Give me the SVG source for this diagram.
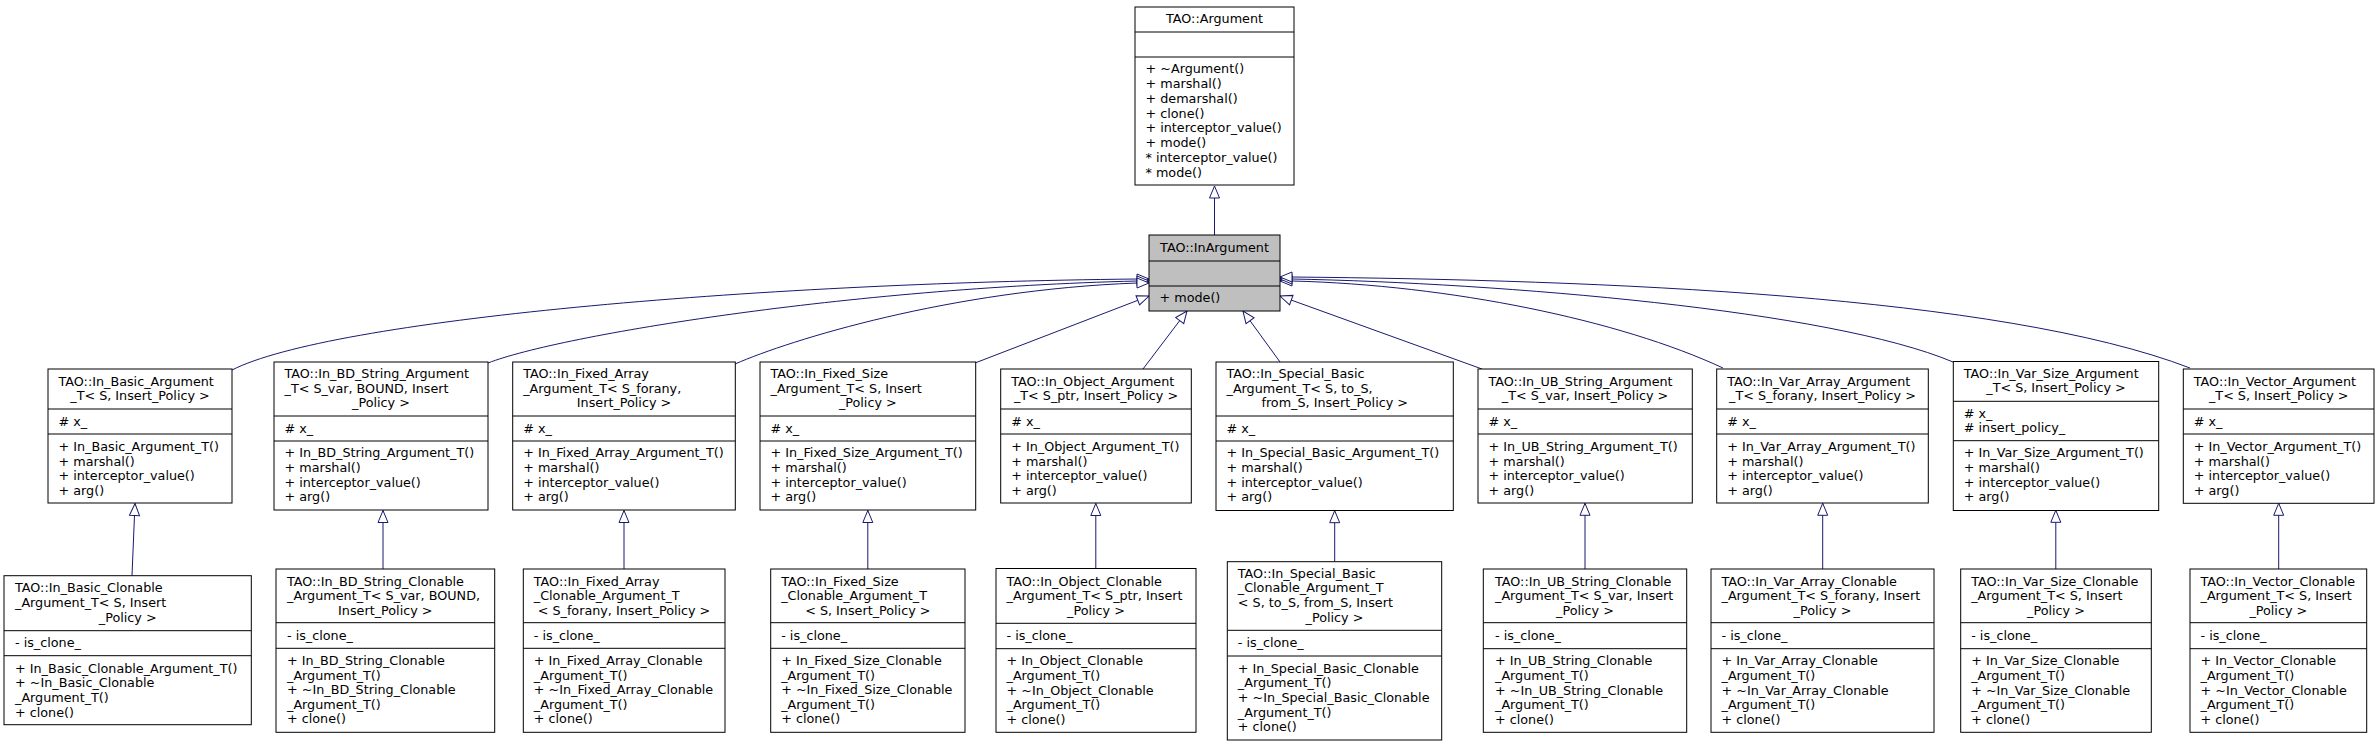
<svg xmlns="http://www.w3.org/2000/svg" width="2380" height="747" viewBox="0 0 2380 747">
<style>
.box{fill:#fff;stroke:#000;stroke-width:1}
.hl{fill:#bfbfbf}
.div{stroke:#000;stroke-width:1}
text{font-family:"DejaVu Sans","Liberation Sans",sans-serif;font-size:12.75px;fill:#000}
.c{text-anchor:middle}
.edge{fill:none;stroke:#191970;stroke-width:1;marker-end:url(#tri)}
</style>
<defs>
<marker id="tri" markerUnits="userSpaceOnUse" markerWidth="14" markerHeight="12" viewBox="-1 -1 14 12" refX="12" refY="5" orient="auto" overflow="visible"><path d="M0,0 L12,5 L0,10 Z" fill="#fff" stroke="#191970" stroke-width="1"/></marker>
</defs>
<rect width="2380" height="747" fill="#fff"/>
<g id="edges">
<path class="edge" d="M1214.5,235 L1214.5,186"/>
<path class="edge" d="M232,370 C330,320 750,283 1137,279 L1149,279"/>
<path class="edge" d="M488,363 C560,335 850,288 1137,281 L1149,281"/>
<path class="edge" d="M735,364 C790,340 950,290 1137,283 L1149,283"/>
<path class="edge" d="M975,363 L1149,296"/>
<path class="edge" d="M1143,369 L1187,311"/>
<path class="edge" d="M1280,362 L1243,311"/>
<path class="edge" d="M1482,369 L1280,296"/>
<path class="edge" d="M1723,368 C1620,320 1450,285 1292,281 L1280,281"/>
<path class="edge" d="M1953,362 C1830,310 1500,283 1292,279 L1280,279"/>
<path class="edge" d="M2190,368 C2000,295 1600,280 1292,277 L1280,277"/>
<path class="edge" d="M132,575.7 L135,503.5"/>
<path class="edge" d="M383,569 L383,510.5"/>
<path class="edge" d="M624,569 L624,510.5"/>
<path class="edge" d="M867.8,569 L867.8,510.5"/>
<path class="edge" d="M1095.8,568.5 L1095.8,503.5"/>
<path class="edge" d="M1334.7,561.7 L1334.7,510.7"/>
<path class="edge" d="M1585,569 L1585,503.3"/>
<path class="edge" d="M1822.7,569 L1822.7,503.3"/>
<path class="edge" d="M2055.8,569 L2055.8,510.3"/>
<path class="edge" d="M2278.7,569 L2278.7,503.3"/>
</g>

<g id="Argument">
<rect class="box" x="1135" y="7" width="159" height="178"/>
<line class="div" x1="1135" y1="32" x2="1294" y2="32"/>
<line class="div" x1="1135" y1="57" x2="1294" y2="57"/>
<text class="c" x="1214.5" y="23.3">TAO::Argument</text>
<text x="1145.5" y="73.3">+ ~Argument()</text>
<text x="1145.5" y="88.1">+ marshal()</text>
<text x="1145.5" y="102.8">+ demarshal()</text>
<text x="1145.5" y="117.6">+ clone()</text>
<text x="1145.5" y="132.3">+ interceptor_value()</text>
<text x="1145.5" y="147.1">+ mode()</text>
<text x="1145.5" y="161.9">* interceptor_value()</text>
<text x="1145.5" y="176.6">* mode()</text>
</g>

<g id="InArgument">
<rect class="box hl" x="1149" y="235" width="131" height="76"/>
<line class="div" x1="1149" y1="261" x2="1280" y2="261"/>
<line class="div" x1="1149" y1="286" x2="1280" y2="286"/>
<text class="c" x="1214.5" y="252">TAO::InArgument</text>
<text x="1159.5" y="301.5">+ mode()</text>
</g>

<g id="In_Basic_Argument_T">
<rect class="box" x="48" y="369" width="184" height="134"/>
<line class="div" x1="48" y1="409" x2="232" y2="409"/>
<line class="div" x1="48" y1="434" x2="232" y2="434"/>
<text x="58.5" y="385.5">TAO::In_Basic_Argument</text>
<text class="c" x="140" y="400.1">_T&lt; S, Insert_Policy &gt;</text>
<text x="58.5" y="425.7"># x_</text>
<text x="58.5" y="451">+ In_Basic_Argument_T()</text>
<text x="58.5" y="465.6">+ marshal()</text>
<text x="58.5" y="480.2">+ interceptor_value()</text>
<text x="58.5" y="494.8">+ arg()</text>
</g>

<g id="In_BD_String_Argument_T">
<rect class="box" x="274" y="362" width="214" height="148"/>
<line class="div" x1="274" y1="416" x2="488" y2="416"/>
<line class="div" x1="274" y1="441" x2="488" y2="441"/>
<text x="284.5" y="378">TAO::In_BD_String_Argument</text>
<text x="284.5" y="392.6">_T&lt; S_var, BOUND, Insert</text>
<text class="c" x="381" y="407.2">_Policy &gt;</text>
<text x="284.5" y="432.7"># x_</text>
<text x="284.5" y="457.3">+ In_BD_String_Argument_T()</text>
<text x="284.5" y="471.9">+ marshal()</text>
<text x="284.5" y="486.5">+ interceptor_value()</text>
<text x="284.5" y="501.1">+ arg()</text>
</g>

<g id="In_Fixed_Array_Argument_T">
<rect class="box" x="512.7" y="362" width="222.6" height="148"/>
<line class="div" x1="512.7" y1="416" x2="735.3" y2="416"/>
<line class="div" x1="512.7" y1="441" x2="735.3" y2="441"/>
<text x="523.2" y="378">TAO::In_Fixed_Array</text>
<text x="523.2" y="392.6">_Argument_T&lt; S_forany,</text>
<text class="c" x="624" y="407.2">Insert_Policy &gt;</text>
<text x="523.2" y="432.7"># x_</text>
<text x="523.2" y="457.3">+ In_Fixed_Array_Argument_T()</text>
<text x="523.2" y="471.9">+ marshal()</text>
<text x="523.2" y="486.5">+ interceptor_value()</text>
<text x="523.2" y="501.1">+ arg()</text>
</g>

<g id="In_Fixed_Size_Argument_T">
<rect class="box" x="760" y="362" width="215.7" height="148"/>
<line class="div" x1="760" y1="416" x2="975.7" y2="416"/>
<line class="div" x1="760" y1="441" x2="975.7" y2="441"/>
<text x="770.5" y="378">TAO::In_Fixed_Size</text>
<text x="770.5" y="392.6">_Argument_T&lt; S, Insert</text>
<text class="c" x="867.8" y="407.2">_Policy &gt;</text>
<text x="770.5" y="432.7"># x_</text>
<text x="770.5" y="457.3">+ In_Fixed_Size_Argument_T()</text>
<text x="770.5" y="471.9">+ marshal()</text>
<text x="770.5" y="486.5">+ interceptor_value()</text>
<text x="770.5" y="501.1">+ arg()</text>
</g>

<g id="In_Object_Argument_T">
<rect class="box" x="1000.7" y="369" width="190.6" height="134"/>
<line class="div" x1="1000.7" y1="409" x2="1191.3" y2="409"/>
<line class="div" x1="1000.7" y1="434" x2="1191.3" y2="434"/>
<text x="1011.2" y="385.5">TAO::In_Object_Argument</text>
<text class="c" x="1096" y="400.1">_T&lt; S_ptr, Insert_Policy &gt;</text>
<text x="1011.2" y="425.7"># x_</text>
<text x="1011.2" y="451">+ In_Object_Argument_T()</text>
<text x="1011.2" y="465.6">+ marshal()</text>
<text x="1011.2" y="480.2">+ interceptor_value()</text>
<text x="1011.2" y="494.8">+ arg()</text>
</g>

<g id="In_Special_Basic_Argument_T">
<rect class="box" x="1216" y="362" width="237.3" height="148.5"/>
<line class="div" x1="1216" y1="416" x2="1453.3" y2="416"/>
<line class="div" x1="1216" y1="441" x2="1453.3" y2="441"/>
<text x="1226.5" y="378">TAO::In_Special_Basic</text>
<text x="1226.5" y="392.6">_Argument_T&lt; S, to_S,</text>
<text class="c" x="1334.7" y="407.2">from_S, Insert_Policy &gt;</text>
<text x="1226.5" y="432.7"># x_</text>
<text x="1226.5" y="457.3">+ In_Special_Basic_Argument_T()</text>
<text x="1226.5" y="471.9">+ marshal()</text>
<text x="1226.5" y="486.5">+ interceptor_value()</text>
<text x="1226.5" y="501.1">+ arg()</text>
</g>

<g id="In_UB_String_Argument_T">
<rect class="box" x="1478" y="369" width="214.3" height="134"/>
<line class="div" x1="1478" y1="409" x2="1692.3" y2="409"/>
<line class="div" x1="1478" y1="434" x2="1692.3" y2="434"/>
<text x="1488.5" y="385.5">TAO::In_UB_String_Argument</text>
<text class="c" x="1585" y="400.1">_T&lt; S_var, Insert_Policy &gt;</text>
<text x="1488.5" y="425.7"># x_</text>
<text x="1488.5" y="451">+ In_UB_String_Argument_T()</text>
<text x="1488.5" y="465.6">+ marshal()</text>
<text x="1488.5" y="480.2">+ interceptor_value()</text>
<text x="1488.5" y="494.8">+ arg()</text>
</g>

<g id="In_Var_Array_Argument_T">
<rect class="box" x="1716.7" y="369" width="211.6" height="134"/>
<line class="div" x1="1716.7" y1="409" x2="1928.3" y2="409"/>
<line class="div" x1="1716.7" y1="434" x2="1928.3" y2="434"/>
<text x="1727.2" y="385.5">TAO::In_Var_Array_Argument</text>
<text class="c" x="1822.5" y="400.1">_T&lt; S_forany, Insert_Policy &gt;</text>
<text x="1727.2" y="425.7"># x_</text>
<text x="1727.2" y="451">+ In_Var_Array_Argument_T()</text>
<text x="1727.2" y="465.6">+ marshal()</text>
<text x="1727.2" y="480.2">+ interceptor_value()</text>
<text x="1727.2" y="494.8">+ arg()</text>
</g>

<g id="In_Var_Size_Argument_T">
<rect class="box" x="1953.3" y="361.5" width="205.4" height="149"/>
<line class="div" x1="1953.3" y1="401.3" x2="2158.7" y2="401.3"/>
<line class="div" x1="1953.3" y1="440.7" x2="2158.7" y2="440.7"/>
<text x="1963.8" y="377.7">TAO::In_Var_Size_Argument</text>
<text class="c" x="2056" y="392.3">_T&lt; S, Insert_Policy &gt;</text>
<text x="1963.8" y="417.7"># x_</text>
<text x="1963.8" y="432.3"># insert_policy_</text>
<text x="1963.8" y="457.3">+ In_Var_Size_Argument_T()</text>
<text x="1963.8" y="471.9">+ marshal()</text>
<text x="1963.8" y="486.5">+ interceptor_value()</text>
<text x="1963.8" y="501.1">+ arg()</text>
</g>

<g id="In_Vector_Argument_T">
<rect class="box" x="2183.3" y="369" width="190.7" height="134.3"/>
<line class="div" x1="2183.3" y1="409" x2="2374" y2="409"/>
<line class="div" x1="2183.3" y1="434" x2="2374" y2="434"/>
<text x="2193.8" y="385.5">TAO::In_Vector_Argument</text>
<text class="c" x="2278.7" y="400.1">_T&lt; S, Insert_Policy &gt;</text>
<text x="2193.8" y="425.7"># x_</text>
<text x="2193.8" y="451">+ In_Vector_Argument_T()</text>
<text x="2193.8" y="465.6">+ marshal()</text>
<text x="2193.8" y="480.2">+ interceptor_value()</text>
<text x="2193.8" y="494.8">+ arg()</text>
</g>

<g id="In_Basic_Clonable_Argument_T">
<rect class="box" x="4" y="575.7" width="247.3" height="149"/>
<line class="div" x1="4" y1="630.7" x2="251.3" y2="630.7"/>
<line class="div" x1="4" y1="655.7" x2="251.3" y2="655.7"/>
<text x="15" y="592.3">TAO::In_Basic_Clonable</text>
<text x="15" y="606.9">_Argument_T&lt; S, Insert</text>
<text class="c" x="127.7" y="621.5">_Policy &gt;</text>
<text x="15" y="647.3">- is_clone_</text>
<text x="15" y="672.7">+ In_Basic_Clonable_Argument_T()</text>
<text x="15" y="687.3">+ ~In_Basic_Clonable</text>
<text x="15" y="701.9">_Argument_T()</text>
<text x="15" y="716.5">+ clone()</text>
</g>

<g id="In_BD_String_Clonable_Argument_T">
<rect class="box" x="276" y="569" width="218.7" height="163.3"/>
<line class="div" x1="276" y1="622.7" x2="494.7" y2="622.7"/>
<line class="div" x1="276" y1="648.3" x2="494.7" y2="648.3"/>
<text x="287" y="585.7">TAO::In_BD_String_Clonable</text>
<text x="287" y="600.3">_Argument_T&lt; S_var, BOUND,</text>
<text class="c" x="385.3" y="614.9">Insert_Policy &gt;</text>
<text x="287" y="640">- is_clone_</text>
<text x="287" y="665">+ In_BD_String_Clonable</text>
<text x="287" y="679.6">_Argument_T()</text>
<text x="287" y="694.2">+ ~In_BD_String_Clonable</text>
<text x="287" y="708.8">_Argument_T()</text>
<text x="287" y="723.4">+ clone()</text>
</g>

<g id="In_Fixed_Array_Clonable_Argument_T">
<rect class="box" x="523.3" y="569" width="201.7" height="163.3"/>
<line class="div" x1="523.3" y1="622.7" x2="725" y2="622.7"/>
<line class="div" x1="523.3" y1="648.3" x2="725" y2="648.3"/>
<text x="533.8" y="585.7">TAO::In_Fixed_Array</text>
<text x="533.8" y="600.3">_Clonable_Argument_T</text>
<text class="c" x="624" y="614.9">&lt; S_forany, Insert_Policy &gt;</text>
<text x="533.8" y="640">- is_clone_</text>
<text x="533.8" y="665">+ In_Fixed_Array_Clonable</text>
<text x="533.8" y="679.6">_Argument_T()</text>
<text x="533.8" y="694.2">+ ~In_Fixed_Array_Clonable</text>
<text x="533.8" y="708.8">_Argument_T()</text>
<text x="533.8" y="723.4">+ clone()</text>
</g>

<g id="In_Fixed_Size_Clonable_Argument_T">
<rect class="box" x="770.7" y="569" width="194.3" height="163.3"/>
<line class="div" x1="770.7" y1="622.7" x2="965" y2="622.7"/>
<line class="div" x1="770.7" y1="648.3" x2="965" y2="648.3"/>
<text x="781.2" y="585.7">TAO::In_Fixed_Size</text>
<text x="781.2" y="600.3">_Clonable_Argument_T</text>
<text class="c" x="867.8" y="614.9">&lt; S, Insert_Policy &gt;</text>
<text x="781.2" y="640">- is_clone_</text>
<text x="781.2" y="665">+ In_Fixed_Size_Clonable</text>
<text x="781.2" y="679.6">_Argument_T()</text>
<text x="781.2" y="694.2">+ ~In_Fixed_Size_Clonable</text>
<text x="781.2" y="708.8">_Argument_T()</text>
<text x="781.2" y="723.4">+ clone()</text>
</g>

<g id="In_Object_Clonable_Argument_T">
<rect class="box" x="996" y="568.5" width="200" height="163.8"/>
<line class="div" x1="996" y1="623.3" x2="1196" y2="623.3"/>
<line class="div" x1="996" y1="648.7" x2="1196" y2="648.7"/>
<text x="1006.5" y="585.7">TAO::In_Object_Clonable</text>
<text x="1006.5" y="600.3">_Argument_T&lt; S_ptr, Insert</text>
<text class="c" x="1096" y="614.9">_Policy &gt;</text>
<text x="1006.5" y="640.3">- is_clone_</text>
<text x="1006.5" y="665.3">+ In_Object_Clonable</text>
<text x="1006.5" y="679.9">_Argument_T()</text>
<text x="1006.5" y="694.5">+ ~In_Object_Clonable</text>
<text x="1006.5" y="709.1">_Argument_T()</text>
<text x="1006.5" y="723.7">+ clone()</text>
</g>

<g id="In_Special_Basic_Clonable_Argument_T">
<rect class="box" x="1227.3" y="561.7" width="214.4" height="178.3"/>
<line class="div" x1="1227.3" y1="630.3" x2="1441.7" y2="630.3"/>
<line class="div" x1="1227.3" y1="656" x2="1441.7" y2="656"/>
<text x="1237.8" y="577.7">TAO::In_Special_Basic</text>
<text x="1237.8" y="592.3">_Clonable_Argument_T</text>
<text x="1237.8" y="606.9">&lt; S, to_S, from_S, Insert</text>
<text class="c" x="1334.5" y="621.5">_Policy &gt;</text>
<text x="1237.8" y="647.3">- is_clone_</text>
<text x="1237.8" y="672.7">+ In_Special_Basic_Clonable</text>
<text x="1237.8" y="687.3">_Argument_T()</text>
<text x="1237.8" y="701.9">+ ~In_Special_Basic_Clonable</text>
<text x="1237.8" y="716.5">_Argument_T()</text>
<text x="1237.8" y="731.1">+ clone()</text>
</g>

<g id="In_UB_String_Clonable_Argument_T">
<rect class="box" x="1483.3" y="569" width="203.4" height="163.3"/>
<line class="div" x1="1483.3" y1="622.7" x2="1686.7" y2="622.7"/>
<line class="div" x1="1483.3" y1="648.7" x2="1686.7" y2="648.7"/>
<text x="1495" y="585.7">TAO::In_UB_String_Clonable</text>
<text x="1495" y="600.3">_Argument_T&lt; S_var, Insert</text>
<text class="c" x="1585" y="614.9">_Policy &gt;</text>
<text x="1495" y="640.3">- is_clone_</text>
<text x="1495" y="665.3">+ In_UB_String_Clonable</text>
<text x="1495" y="679.9">_Argument_T()</text>
<text x="1495" y="694.5">+ ~In_UB_String_Clonable</text>
<text x="1495" y="709.1">_Argument_T()</text>
<text x="1495" y="723.7">+ clone()</text>
</g>

<g id="In_Var_Array_Clonable_Argument_T">
<rect class="box" x="1711" y="569" width="223" height="163.3"/>
<line class="div" x1="1711" y1="622.7" x2="1934" y2="622.7"/>
<line class="div" x1="1711" y1="648.7" x2="1934" y2="648.7"/>
<text x="1721.5" y="585.7">TAO::In_Var_Array_Clonable</text>
<text x="1721.5" y="600.3">_Argument_T&lt; S_forany, Insert</text>
<text class="c" x="1822.5" y="614.9">_Policy &gt;</text>
<text x="1721.5" y="640.3">- is_clone_</text>
<text x="1721.5" y="665.3">+ In_Var_Array_Clonable</text>
<text x="1721.5" y="679.9">_Argument_T()</text>
<text x="1721.5" y="694.5">+ ~In_Var_Array_Clonable</text>
<text x="1721.5" y="709.1">_Argument_T()</text>
<text x="1721.5" y="723.7">+ clone()</text>
</g>

<g id="In_Var_Size_Clonable_Argument_T">
<rect class="box" x="1960.7" y="569" width="190.6" height="163.3"/>
<line class="div" x1="1960.7" y1="622.7" x2="2151.3" y2="622.7"/>
<line class="div" x1="1960.7" y1="648.7" x2="2151.3" y2="648.7"/>
<text x="1971.2" y="585.7">TAO::In_Var_Size_Clonable</text>
<text x="1971.2" y="600.3">_Argument_T&lt; S, Insert</text>
<text class="c" x="2056" y="614.9">_Policy &gt;</text>
<text x="1971.2" y="640.3">- is_clone_</text>
<text x="1971.2" y="665.3">+ In_Var_Size_Clonable</text>
<text x="1971.2" y="679.9">_Argument_T()</text>
<text x="1971.2" y="694.5">+ ~In_Var_Size_Clonable</text>
<text x="1971.2" y="709.1">_Argument_T()</text>
<text x="1971.2" y="723.7">+ clone()</text>
</g>

<g id="In_Vector_Clonable_Argument_T">
<rect class="box" x="2190" y="569" width="176.7" height="163.3"/>
<line class="div" x1="2190" y1="622.7" x2="2366.7" y2="622.7"/>
<line class="div" x1="2190" y1="648.7" x2="2366.7" y2="648.7"/>
<text x="2200.5" y="585.7">TAO::In_Vector_Clonable</text>
<text x="2200.5" y="600.3">_Argument_T&lt; S, Insert</text>
<text class="c" x="2278.3" y="614.9">_Policy &gt;</text>
<text x="2200.5" y="640.3">- is_clone_</text>
<text x="2200.5" y="665.3">+ In_Vector_Clonable</text>
<text x="2200.5" y="679.9">_Argument_T()</text>
<text x="2200.5" y="694.5">+ ~In_Vector_Clonable</text>
<text x="2200.5" y="709.1">_Argument_T()</text>
<text x="2200.5" y="723.7">+ clone()</text>
</g>
</svg>
